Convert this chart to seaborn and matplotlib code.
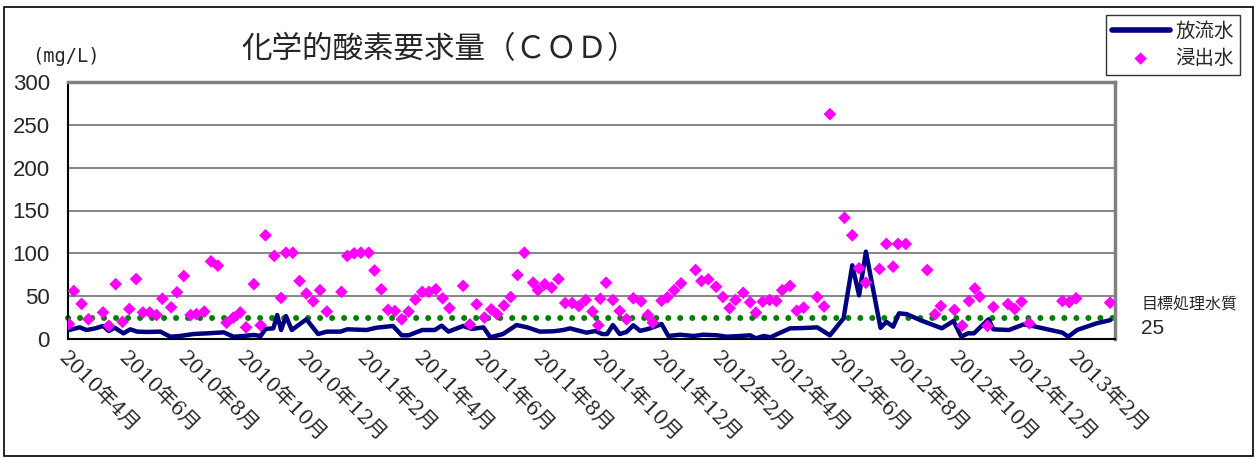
import numpy as np
import pandas as pd
import matplotlib
matplotlib.use("Agg")
import matplotlib.pyplot as plt
import matplotlib.dates as mdates
from matplotlib.ticker import FuncFormatter
from matplotlib.patches import Rectangle
import seaborn as sns

# データ (2010-04-01 からの経過日数, mg/L)
start_date = "2010-04-01"
end_date = "2013-03-12"

effluent_days = [1, 12, 19, 28, 36, 42, 48, 57, 64, 71, 81, 95, 105, 115, 129, 143, 160, 170, 180,
                 191, 198, 203, 211, 215, 219, 224, 230, 245, 257, 266, 280, 287, 307, 317, 334,
                 343, 350, 364, 377, 384, 391, 406, 415, 427, 434, 447, 461, 472, 485, 499, 509,
                 516, 525, 533, 542, 549, 554, 560, 567, 574, 581, 588, 597, 603, 610, 617, 629,
                 643, 653, 667, 677, 691, 701, 707, 715, 722, 729, 742, 756, 770, 783, 797, 806,
                 813, 820, 835, 841, 848, 854, 862, 876, 898, 910, 918, 925, 931, 946, 951, 967,
                 982, 992, 1022, 1028, 1037, 1057, 1071]
effluent_cod = [10.5, 13.6, 10.5, 12.4, 15.2, 9.3, 13.2, 6.6, 11.3, 8.6, 8.2, 8.6, 2.7, 3.5, 5.8,
                6.6, 7.8, 2.7, 3.5, 4.7, 3.5, 11.7, 12.4, 28, 10.5, 26.8, 10.5, 23, 5.8, 8.6, 8.6,
                11.3, 10.5, 13.2, 15.2, 4.3, 4.3, 10.5, 10.5, 15.6, 8.6, 15.2, 11.7, 13.6, 2,
                5.8, 16.3, 13.6, 8.6, 9, 10.5, 12.4, 9.7, 7.4, 9.3, 5.8, 5.8, 16.3, 5.8, 8.2, 16,
                9.5, 12, 14.4, 17.5, 3.5, 5, 3.5, 5, 4.3, 2.7, 3.5, 4.3, 0.8, 3.5, 2, 5.8, 12.4,
                12.8, 13.6, 4.3, 24, 86, 51, 102, 13, 20, 14.4, 30, 29, 22, 12.5, 21, 2.7, 6.6,
                6.6, 23, 11.3, 10.5, 17, 15, 7.4, 2.7, 10.5, 18.3, 22]

leachate_days = [1, 6, 14, 21, 36, 42, 49, 56, 63, 70, 77, 84, 91, 97, 106, 112, 119, 126, 132,
                 140, 147, 154, 163, 170, 177, 183, 191, 198, 203, 212, 219, 224, 231, 238, 245,
                 252, 259, 266, 281, 287, 294, 301, 309, 315, 322, 329, 336, 343, 350, 357, 364,
                 371, 378, 385, 392, 406, 413, 420, 428, 435, 441, 448, 455, 462, 469, 478, 483,
                 490, 497, 504, 511, 518, 525, 532, 539, 545, 547, 553, 560, 567, 574, 581, 589,
                 596, 601, 610, 616, 623, 630, 645, 651, 658, 666, 673, 680, 686, 694, 701, 707,
                 714, 721, 728, 734, 742, 749, 756, 770, 777, 783, 798, 806, 813, 820, 834, 841,
                 848, 853, 861, 883, 891, 897, 911, 919, 926, 932, 937, 945, 951, 966, 973, 980,
                 988, 1022, 1029, 1036, 1071]
leachate_cod = [17.5, 56, 41, 23, 31, 15.5, 64, 20, 35, 70, 31, 31, 28, 47, 37, 54.5, 73.5, 28,
                29, 32, 90.6, 85.6, 19, 25, 31, 13.6, 64, 16, 121, 97, 48, 100.7, 100.7, 67.7, 53,
                44, 57, 32, 55, 97, 100, 100.7, 100.7, 80, 58, 34, 32.7, 23, 32, 46, 55, 55, 58,
                47.5, 36, 62, 17, 40.5, 25, 34.6, 29, 39, 49, 74.7, 100.7, 65.7, 57, 64, 60, 70,
                42, 42, 38.5, 45.5, 32, 16, 47, 65.7, 45.5, 32.7, 23, 47.5, 44, 28, 19, 44.7,
                48.6, 57, 65, 80.5, 67.7, 69.7, 61, 49, 36, 45.5, 54, 42.8, 30.7, 43.6, 45.5,
                44.3, 57, 62, 33, 36.6, 49, 38, 262.5, 141.5, 121, 82.5, 65.7, 81.7, 111, 84.4,
                111, 111, 80.5, 28.8, 38.5, 34, 15.6, 44.3, 59, 49.4, 15.2, 37.3, 40.8, 35, 43.6,
                18.3, 44.3, 43, 47.5, 42.4]

target_value = 25
y_ticks = [0, 50, 100, 150, 200, 250, 300]

t0 = pd.Timestamp(start_date)
effluent = pd.DataFrame({"date": t0 + pd.to_timedelta(effluent_days, unit="D"), "cod": effluent_cod})
leachate = pd.DataFrame({"date": t0 + pd.to_timedelta(leachate_days, unit="D"), "cod": leachate_cod})

sns.set_style("white")
plt.rcParams['font.family'] = ['Noto Sans CJK JP', 'DejaVu Sans']

fig = plt.figure(figsize=(12.58, 4.58), dpi=100)
ax = fig.add_axes([68 / 1258, 1 - 339 / 458, (1115 - 68) / 1258, (339 - 82) / 458])

for y in y_ticks[1:]:
    ax.axhline(y, color="#707070", lw=1.2, zorder=0)

x_min, x_max = t0, pd.Timestamp(end_date)
ax.plot([x_min, x_max + pd.Timedelta(days=8)], [target_value, target_value], color="#008000",
        lw=4.3, linestyle=(0, (0.01, 2.0)), dash_capstyle="round", clip_on=False, zorder=2)

sns.lineplot(data=effluent, x="date", y="cod", ax=ax, color="#000080", lw=3.2,
             label="放流水", zorder=3)
sns.scatterplot(data=leachate, x="date", y="cod", ax=ax, color="#FF00FF", marker="D",
                s=42, edgecolor="none", label="浸出水", zorder=4)

ax.set_xlim(x_min, x_max)
ax.set_ylim(0, 300)
ax.set_yticks(y_ticks)
ax.set_xlabel("")
ax.set_ylabel("")

ax.xaxis.set_major_locator(mdates.MonthLocator(bymonth=[2, 4, 6, 8, 10, 12]))
ax.xaxis.set_major_formatter(FuncFormatter(
    lambda v, pos: f"{mdates.num2date(v).year}年{mdates.num2date(v).month}月"))
ax.tick_params(axis="x", direction="in", length=5, width=1, color="#404040", pad=7)
ax.tick_params(axis="y", length=0, pad=13)
for lab in ax.get_xticklabels():
    lab.set_rotation(-45)
    lab.set_ha("left")
    lab.set_va("top")
    lab.set_rotation_mode("anchor")
    lab.set_family(['DejaVu Serif', 'Noto Sans CJK JP'])
    lab.set_fontsize(14.5)
for lab in ax.get_yticklabels():
    lab.set_family(['Liberation Sans', 'DejaVu Sans'])
    lab.set_fontsize(16)

for side in ["left", "bottom"]:
    ax.spines[side].set_color("black")
    ax.spines[side].set_linewidth(1.5)
for side in ["top", "right"]:
    ax.spines[side].set_color("#808080")
    ax.spines[side].set_linewidth(2.5)

leg = ax.legend(loc="upper right", bbox_to_anchor=(1240 / 1258, 1 - 15 / 458),
                bbox_transform=fig.transFigure, frameon=True, fancybox=False,
                prop={"size": 14, "family": ["Noto Sans CJK JP", "DejaVu Sans"]},
                handlelength=3.0, handletextpad=0.3, borderpad=0.3,
                labelspacing=0.3, borderaxespad=0)
leg.get_frame().set_edgecolor("black")
leg.get_frame().set_linewidth(1.0)
leg.legend_handles[0].set_linewidth(4)
leg.legend_handles[1].set_sizes([40])

fig.text(440 / 1258, 1 - 50 / 458, "化学的酸素要求量（ＣＯＤ）", fontsize=22, ha="center", va="center")
fig.text(66 / 1258, 1 - 57 / 458, "(mg/L)", fontsize=13.5, ha="center", va="center",
         family=["DejaVu Sans Mono"])
fig.text(1141 / 1258, 1 - 305 / 458, "目標処理水質", fontsize=11.5, ha="left", va="center")
fig.text(1141 / 1258, 1 - 329 / 458, "25", fontsize=15, ha="left", va="center",
         family=["Liberation Sans", "DejaVu Sans"])

fig.patches.append(Rectangle((4 / 1258, 2 / 458), 1249 / 1258, 449 / 458, transform=fig.transFigure,
                             fill=False, edgecolor="black", lw=1.2))

fig.savefig("out.png", dpi=100)
